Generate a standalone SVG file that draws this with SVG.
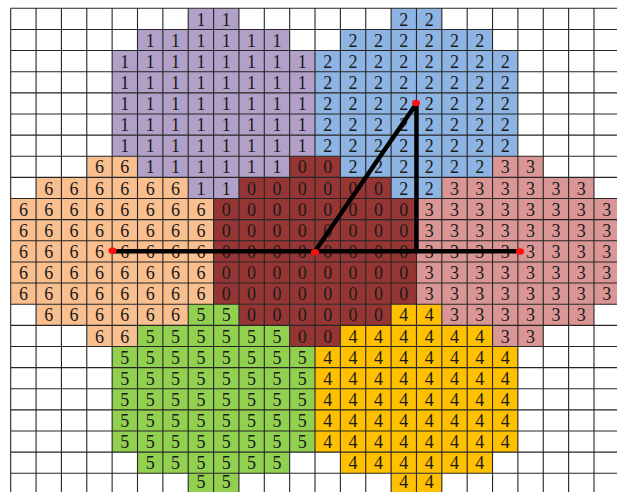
<svg xmlns="http://www.w3.org/2000/svg" width="617" height="492" viewBox="0 0 617 492">
<style>
.r1{fill:#B1A0C7}.r2{fill:#8DB4E2}.r0{fill:#963634}.r6{fill:#FABF8F}.r3{fill:#DA9694}.r5{fill:#92D050}.r4{fill:#FFC000}
text{font-family:"Liberation Serif","Times New Roman",serif;font-size:18px;fill:#1a1a1a;text-anchor:middle}
.grid{fill:none;stroke:#262626;stroke-width:1.1}
.conn{fill:none;stroke:#000;stroke-width:4.5;stroke-linecap:butt}
.dot{fill:#FF1010}
</style>
<rect width="617" height="492" fill="#fff"/>
<g id="region-1">
<rect class="r1" x="188.22" y="8.3" width="50.72" height="21.14"/>
<rect class="r1" x="137.5" y="29.44" width="152.16" height="21.13"/>
<rect class="r1" x="112.14" y="50.57" width="202.88" height="105.68"/>
<rect class="r1" x="137.5" y="156.25" width="152.16" height="21.14"/>
<rect class="r1" x="188.22" y="177.39" width="50.72" height="21.13"/>
<text x="200.9 226.26" y="25.5">11</text>
<text x="150.18 175.54 200.9 226.26 251.62 276.98" y="46.64">111111</text>
<text x="124.82 150.18 175.54 200.9 226.26 251.62 276.98 302.34" y="67.77">11111111</text>
<text x="124.82 150.18 175.54 200.9 226.26 251.62 276.98 302.34" y="88.91">11111111</text>
<text x="124.82 150.18 175.54 200.9 226.26 251.62 276.98 302.34" y="110.04">11111111</text>
<text x="124.82 150.18 175.54 200.9 226.26 251.62 276.98 302.34" y="131.18">11111111</text>
<text x="124.82 150.18 175.54 200.9 226.26 251.62 276.98 302.34" y="152.32">11111111</text>
<text x="150.18 175.54 200.9 226.26 251.62 276.98" y="173.45">111111</text>
<text x="200.9 226.26" y="194.59">11</text>
</g>
<g id="region-2">
<rect class="r2" x="391.1" y="8.3" width="50.72" height="21.14"/>
<rect class="r2" x="340.38" y="29.44" width="152.16" height="21.13"/>
<rect class="r2" x="315.02" y="50.57" width="202.88" height="105.68"/>
<rect class="r2" x="340.38" y="156.25" width="152.16" height="21.14"/>
<rect class="r2" x="391.1" y="177.39" width="50.72" height="21.13"/>
<text x="403.78 429.14" y="25.5">22</text>
<text x="353.06 378.42 403.78 429.14 454.5 479.86" y="46.64">222222</text>
<text x="327.7 353.06 378.42 403.78 429.14 454.5 479.86 505.22" y="67.77">22222222</text>
<text x="327.7 353.06 378.42 403.78 429.14 454.5 479.86 505.22" y="88.91">22222222</text>
<text x="327.7 353.06 378.42 403.78 429.14 454.5 479.86 505.22" y="110.04">22222222</text>
<text x="327.7 353.06 378.42 403.78 429.14 454.5 479.86 505.22" y="131.18">22222222</text>
<text x="327.7 353.06 378.42 403.78 429.14 454.5 479.86 505.22" y="152.32">22222222</text>
<text x="353.06 378.42 403.78 429.14 454.5 479.86" y="173.45">222222</text>
<text x="403.78 429.14" y="194.59">22</text>
</g>
<g id="region-0">
<rect class="r0" x="289.66" y="156.25" width="50.72" height="21.14"/>
<rect class="r0" x="238.94" y="177.39" width="152.16" height="21.13"/>
<rect class="r0" x="213.58" y="198.52" width="202.88" height="105.68"/>
<rect class="r0" x="238.94" y="304.2" width="152.16" height="21.14"/>
<rect class="r0" x="289.66" y="325.34" width="50.72" height="21.14"/>
<text x="302.34 327.7" y="173.45">00</text>
<text x="251.62 276.98 302.34 327.7 353.06 378.42" y="194.59">000000</text>
<text x="226.26 251.62 276.98 302.34 327.7 353.06 378.42 403.78" y="215.72">00000000</text>
<text x="226.26 251.62 276.98 302.34 327.7 353.06 378.42 403.78" y="236.86">00000000</text>
<text x="226.26 251.62 276.98 302.34 327.7 353.06 378.42 403.78" y="258">00000000</text>
<text x="226.26 251.62 276.98 302.34 327.7 353.06 378.42 403.78" y="279.13">00000000</text>
<text x="226.26 251.62 276.98 302.34 327.7 353.06 378.42 403.78" y="300.27">00000000</text>
<text x="251.62 276.98 302.34 327.7 353.06 378.42" y="321.4">000000</text>
<text x="302.34 327.7" y="342.54">00</text>
</g>
<g id="region-6">
<rect class="r6" x="86.78" y="156.25" width="50.72" height="21.14"/>
<rect class="r6" x="36.06" y="177.39" width="152.16" height="21.13"/>
<rect class="r6" x="10.7" y="198.52" width="202.88" height="105.68"/>
<rect class="r6" x="36.06" y="304.2" width="152.16" height="21.14"/>
<rect class="r6" x="86.78" y="325.34" width="50.72" height="21.14"/>
<text x="99.46 124.82" y="173.45">66</text>
<text x="48.74 74.1 99.46 124.82 150.18 175.54" y="194.59">666666</text>
<text x="23.38 48.74 74.1 99.46 124.82 150.18 175.54 200.9" y="215.72">66666666</text>
<text x="23.38 48.74 74.1 99.46 124.82 150.18 175.54 200.9" y="236.86">66666666</text>
<text x="23.38 48.74 74.1 99.46 124.82 150.18 175.54 200.9" y="258">66666666</text>
<text x="23.38 48.74 74.1 99.46 124.82 150.18 175.54 200.9" y="279.13">66666666</text>
<text x="23.38 48.74 74.1 99.46 124.82 150.18 175.54 200.9" y="300.27">66666666</text>
<text x="48.74 74.1 99.46 124.82 150.18 175.54" y="321.4">666666</text>
<text x="99.46 124.82" y="342.54">66</text>
</g>
<g id="region-3">
<rect class="r3" x="492.54" y="156.25" width="50.72" height="21.14"/>
<rect class="r3" x="441.82" y="177.39" width="152.16" height="21.13"/>
<rect class="r3" x="416.46" y="198.52" width="202.88" height="105.68"/>
<rect class="r3" x="441.82" y="304.2" width="152.16" height="21.14"/>
<rect class="r3" x="492.54" y="325.34" width="50.72" height="21.14"/>
<text x="505.22 530.58" y="173.45">33</text>
<text x="454.5 479.86 505.22 530.58 555.94 581.3" y="194.59">333333</text>
<text x="429.14 454.5 479.86 505.22 530.58 555.94 581.3 606.66" y="215.72">33333333</text>
<text x="429.14 454.5 479.86 505.22 530.58 555.94 581.3 606.66" y="236.86">33333333</text>
<text x="429.14 454.5 479.86 505.22 530.58 555.94 581.3 606.66" y="258">33333333</text>
<text x="429.14 454.5 479.86 505.22 530.58 555.94 581.3 606.66" y="279.13">33333333</text>
<text x="429.14 454.5 479.86 505.22 530.58 555.94 581.3 606.66" y="300.27">33333333</text>
<text x="454.5 479.86 505.22 530.58 555.94 581.3" y="321.4">333333</text>
<text x="505.22 530.58" y="342.54">33</text>
</g>
<g id="region-5">
<rect class="r5" x="188.22" y="304.2" width="50.72" height="21.14"/>
<rect class="r5" x="137.5" y="325.34" width="152.16" height="21.14"/>
<rect class="r5" x="112.14" y="346.48" width="202.88" height="105.68"/>
<rect class="r5" x="137.5" y="452.16" width="152.16" height="21.13"/>
<rect class="r5" x="188.22" y="473.29" width="50.72" height="21.14"/>
<text x="200.9 226.26" y="321.4">55</text>
<text x="150.18 175.54 200.9 226.26 251.62 276.98" y="342.54">555555</text>
<text x="124.82 150.18 175.54 200.9 226.26 251.62 276.98 302.34" y="363.68">55555555</text>
<text x="124.82 150.18 175.54 200.9 226.26 251.62 276.98 302.34" y="384.81">55555555</text>
<text x="124.82 150.18 175.54 200.9 226.26 251.62 276.98 302.34" y="405.95">55555555</text>
<text x="124.82 150.18 175.54 200.9 226.26 251.62 276.98 302.34" y="427.08">55555555</text>
<text x="124.82 150.18 175.54 200.9 226.26 251.62 276.98 302.34" y="448.22">55555555</text>
<text x="150.18 175.54 200.9 226.26 251.62 276.98" y="469.36">555555</text>
<text x="200.9 226.26" y="488">55</text>
</g>
<g id="region-4">
<rect class="r4" x="391.1" y="304.2" width="50.72" height="21.14"/>
<rect class="r4" x="340.38" y="325.34" width="152.16" height="21.14"/>
<rect class="r4" x="315.02" y="346.48" width="202.88" height="105.68"/>
<rect class="r4" x="340.38" y="452.16" width="152.16" height="21.13"/>
<rect class="r4" x="391.1" y="473.29" width="50.72" height="21.14"/>
<text x="403.78 429.14" y="321.4">44</text>
<text x="353.06 378.42 403.78 429.14 454.5 479.86" y="342.54">444444</text>
<text x="327.7 353.06 378.42 403.78 429.14 454.5 479.86 505.22" y="363.68">44444444</text>
<text x="327.7 353.06 378.42 403.78 429.14 454.5 479.86 505.22" y="384.81">44444444</text>
<text x="327.7 353.06 378.42 403.78 429.14 454.5 479.86 505.22" y="405.95">44444444</text>
<text x="327.7 353.06 378.42 403.78 429.14 454.5 479.86 505.22" y="427.08">44444444</text>
<text x="327.7 353.06 378.42 403.78 429.14 454.5 479.86 505.22" y="448.22">44444444</text>
<text x="353.06 378.42 403.78 429.14 454.5 479.86" y="469.36">444444</text>
<text x="403.78 429.14" y="488">44</text>
</g>
<path id="grid" class="grid" d="M10.7 8.3V492M36.06 8.3V492M61.42 8.3V492M86.78 8.3V492M112.14 8.3V492M137.5 8.3V492M162.86 8.3V492M188.22 8.3V492M213.58 8.3V492M238.94 8.3V492M264.3 8.3V492M289.66 8.3V492M315.02 8.3V492M340.38 8.3V492M365.74 8.3V492M391.1 8.3V492M416.46 8.3V492M441.82 8.3V492M467.18 8.3V492M492.54 8.3V492M517.9 8.3V492M543.26 8.3V492M568.62 8.3V492M593.98 8.3V492
M10.7 8.3H617M10.7 29.44H617M10.7 50.57H617M10.7 71.71H617M10.7 92.84H617M10.7 113.98H617M10.7 135.12H617M10.7 156.25H617M10.7 177.39H617M10.7 198.52H617M10.7 219.66H617M10.7 240.8H617M10.7 261.93H617M10.7 283.07H617M10.7 304.2H617M10.7 325.34H617M10.7 346.48H617M10.7 367.61H617M10.7 388.75H617M10.7 409.88H617M10.7 431.02H617M10.7 452.16H617M10.7 473.29H617"/>
<g id="connectors">
<path class="conn" d="M112.14 251.3H517.9"/>
<path class="conn" d="M315.02 251.3L416.46 103.4"/>
<path class="conn" d="M416.46 103.4V251.3"/>
</g>
<g id="points">
<ellipse class="dot" cx="112.5" cy="250.8" rx="4" ry="3.3"/>
<ellipse class="dot" cx="315" cy="252.3" rx="4" ry="3.3"/>
<ellipse class="dot" cx="416" cy="103" rx="4" ry="3.3"/>
<ellipse class="dot" cx="520" cy="251.5" rx="4" ry="3.3"/>
</g>
</svg>
